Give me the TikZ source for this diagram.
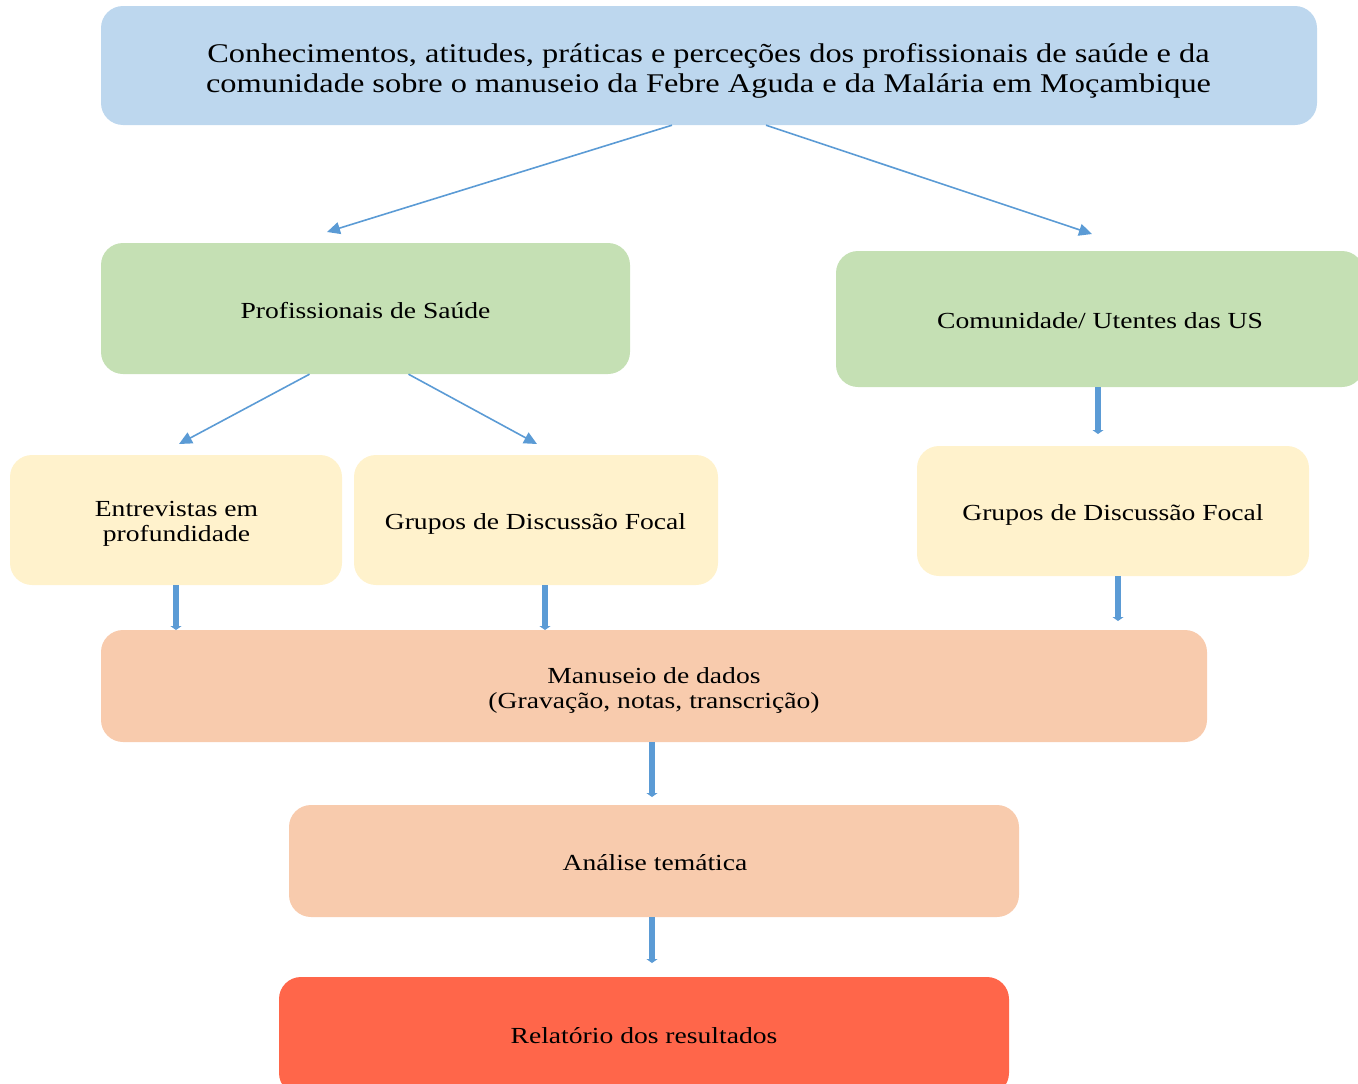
\documentclass[tikz,border=0pt]{standalone}
\usepackage{fontspec}
\setmainfont[FakeStretch=1.2]{Liberation Serif}
\usetikzlibrary{arrows.meta,calc}
\definecolor{cblue}{HTML}{BDD7EE}
\definecolor{cgreen}{HTML}{C5E0B4}
\definecolor{cyellow}{HTML}{FFF2CC}
\definecolor{cpeach}{HTML}{F8CBAD}
\definecolor{cred}{HTML}{FF664A}
\definecolor{carrow}{HTML}{5B9BD5}
\tikzset{
  box/.style={rectangle, rounded corners=22pt, draw=none, inner sep=0pt},
  lbl/.style={inner sep=0pt, align=center, text=black, font=\fontsize{23}{25}\selectfont},
  thinarrow/.style={draw=carrow, line width=1.6pt, -{Triangle[length=13pt,width=12pt]}},
  thickarrow/.style={draw=carrow, line width=5.5pt, -{Triangle[length=4pt,width=11pt]}},
}
\begin{document}
\begin{tikzpicture}[x=1pt,y=-1pt]
\useasboundingbox (0,0) rectangle (1358,1084);
\clip (0,0) rectangle (1358,1084);
% boxes
\node[box, fill=cblue, minimum width=1216pt, minimum height=119pt] (top) at (709,65.5) {};
\node[box, fill=cgreen, minimum width=529pt, minimum height=131pt] (prof) at (365.5,308.5) {};
\node[box, fill=cgreen, minimum width=528pt, minimum height=136pt] (comm) at (1100,319) {};
\node[box, fill=cyellow, minimum width=332pt, minimum height=130pt] (entr) at (176,520) {};
\node[box, fill=cyellow, minimum width=364pt, minimum height=130pt] (gdfl) at (536,520) {};
\node[box, fill=cyellow, minimum width=392pt, minimum height=130pt] (gdfr) at (1113,511) {};
\node[box, fill=cpeach, minimum width=1106pt, minimum height=112pt] (man) at (654,686) {};
\node[box, fill=cpeach, minimum width=730pt, minimum height=112pt] (anal) at (654,861) {};
\node[box, fill=cred, minimum width=730pt, minimum height=118pt] (rel) at (644,1036) {};
% texts
\node[lbl, font=\fontsize{27}{30}\selectfont] (topt) at (708.5,71)
  {Conhecimentos, atitudes, práticas e perceções dos profissionais de saúde e da\\comunidade sobre o manuseio da Febre Aguda e da Malária em Moçambique};
\node[lbl] (proft) at (365.5,311) {Profissionais de Saúde};
\node[lbl] (commt) at (1100,321) {Comunidade/ Utentes das US};
\node[lbl] (entrt) at (176.5,524) {Entrevistas em\\profundidade};
\node[lbl] (gdflt) at (535.5,524) {Grupos de Discussão Focal};
\node[lbl] (gdfrt) at (1113,515) {Grupos de Discussão Focal};
\node[lbl] (mant) at (654,690.5) {Manuseio de dados\\(Gravação, notas, transcrição)};
\node[lbl] (analt) at (655,863) {Análise temática};
\node[lbl] (relt) at (644,1036) {Relatório dos resultados};
% free ends
\coordinate (e1) at (327,232);
\coordinate (e2) at (1092,234);
\coordinate (e3) at (179,444);
\coordinate (e4) at (537,444);
\coordinate (e5) at (1098,434);
\coordinate (e6) at (176,630);
\coordinate (e7) at (545,630);
\coordinate (e8) at (1118,621);
\coordinate (e9) at (652,797);
\coordinate (e10) at (652,963);
\draw[thinarrow] ([xshift=-37pt]top.south) -- (e1);
\draw[thinarrow] ([xshift=57pt]top.south) -- (e2);
\draw[thinarrow] ([xshift=-56pt]prof.south) -- (e3);
\draw[thinarrow] ([xshift=43pt]prof.south) -- (e4);
\draw[thickarrow] ([xshift=-2pt]comm.south) -- (e5);
\draw[thickarrow] (entr.south) -- (e6);
\draw[thickarrow] ([xshift=9pt]gdfl.south) -- (e7);
\draw[thickarrow] ([xshift=5pt]gdfr.south) -- (e8);
\draw[thickarrow] ([xshift=-2pt]man.south) -- (e9);
\draw[thickarrow] ([xshift=-2pt]anal.south) -- (e10);
\end{tikzpicture}
\end{document}
